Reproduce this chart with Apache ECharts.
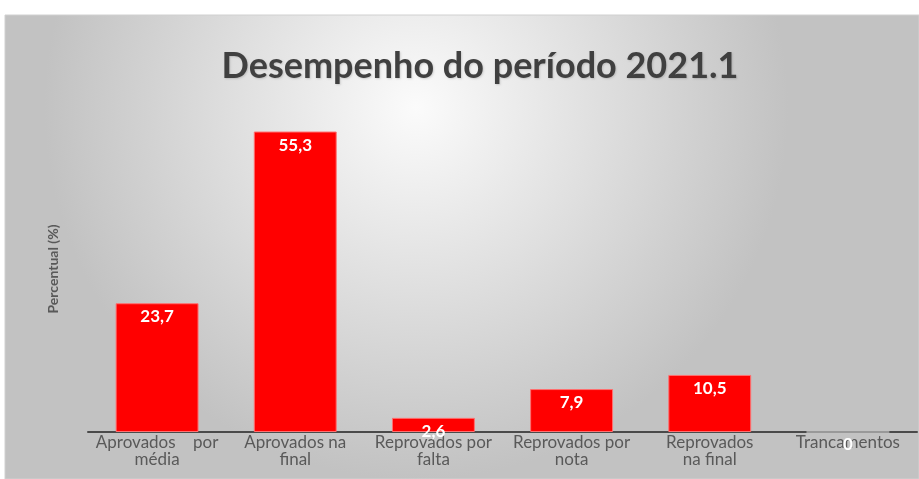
<!DOCTYPE html>
<html>
<head>
<meta charset="utf-8">
<script src="https://cdn.jsdelivr.net/npm/echarts@6/dist/echarts.min.js"></script>
<style>html,body{margin:0;padding:0;background:#fff}#c{width:919px;height:479px}</style>
</head>
<body>
<div id="c"></div>
<script>
const categories = ["Aprovados    por\nmédia", "Aprovados na\nfinal", "Reprovados por\nfalta", "Reprovados por\nnota", "Reprovados\nna final", "Trancamentos"];
const values = [23.7, 55.3, 2.6, 7.9, 10.5, 0];
const titleText = "Desempenho do período 2021.1";
const yName = "Percentual (%)";

const chart = echarts.init(document.getElementById('c'), null, {renderer: 'canvas'});
chart.setOption({
  animation: false,
  graphic: [{
    type: 'rect', z: -10, silent: true,
    shape: {x: 5, y: 15, width: 914, height: 464},
    style: {
      fill: new echarts.graphic.RadialGradient(0.45, 0.2, 0.8, [
        {offset: 0, color: '#fbfbfb'},
        {offset: 1, color: '#c2c2c2'}
      ]),
      stroke: '#d0d0d0', lineWidth: 1
    }
  }],
  title: {
    text: titleText, left: 475, top: 43, textAlign: 'center',
    textStyle: {fontFamily: 'Lato', fontWeight: 'bold', fontSize: 36, color: '#404040',
      textShadowColor: 'rgba(0,0,0,0.15)', textShadowBlur: 2, textShadowOffsetX: 1, textShadowOffsetY: 1}
  },
  grid: {left: 88, right: 2, top: 106, bottom: 47},
  xAxis: {
    type: 'category', data: categories,
    axisLine: {lineStyle: {color: '#4a4a4a', width: 2}},
    axisTick: {show: false},
    axisLabel: {interval: 0, fontFamily: 'Lato', fontSize: 17, color: '#595959', lineHeight: 17, margin: 2}
  },
  yAxis: {
    type: 'value', min: 0, max: 60,
    name: yName, nameLocation: 'middle', nameGap: 28,
    nameTextStyle: {fontFamily: 'Lato', fontWeight: 'bold', fontSize: 14, color: '#595959'},
    axisLine: {show: false}, axisTick: {show: false}, axisLabel: {show: false},
    splitLine: {show: false}
  },
  series: [{
    type: 'bar', barWidth: '60%',
    data: values.map(v => v === 0
      ? {value: v, itemStyle: {color: '#999999', borderColor: '#999999', borderWidth: 2}}
      : {value: v}),
    itemStyle: {color: '#ff0000', borderColor: '#ff7070', borderWidth: 1},
    label: {show: true, position: 'insideTop', distance: 5, color: '#ffffff',
      fontFamily: 'Lato', fontWeight: 'bold', fontSize: 17,
      formatter: p => String(p.value).replace('.', ',')}
  }]
});
</script>
</body>
</html>
